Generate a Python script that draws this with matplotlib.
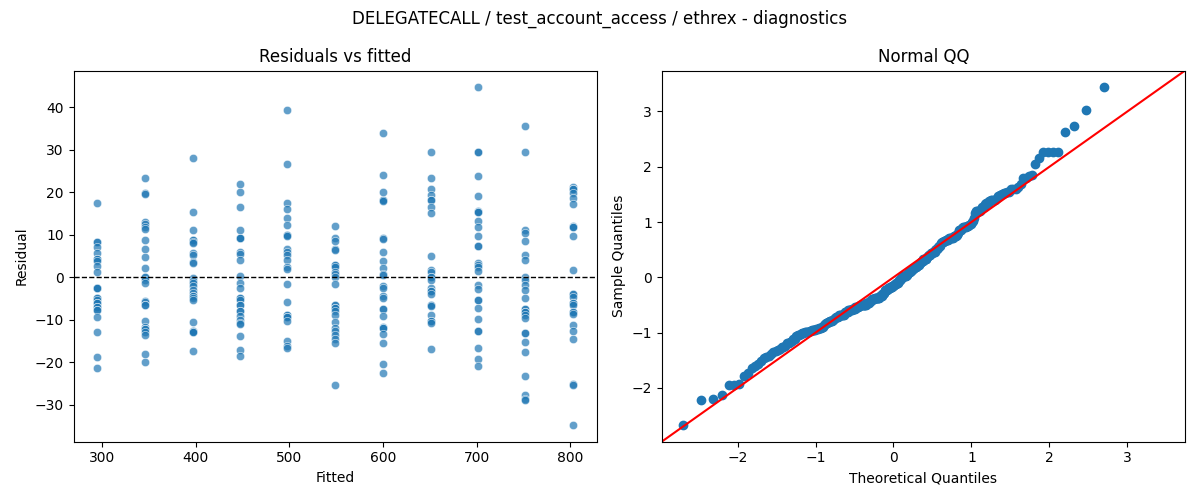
import numpy as np
import matplotlib
matplotlib.use("Agg")
import matplotlib.pyplot as plt
import seaborn as sns
from statistics import NormalDist


# -------------------------------------------------
# Residuals, one list per fitted value
# (repeated values are points drawn on top of each other)
# -------------------------------------------------

FITTED = [295, 346, 397, 447, 498, 549, 600, 651, 701, 752, 803]

RESID_295 = [17.4, 8.4, 8.4, 7.2, 5.8, 4.3, 4.3, 3.9, 2.7, 1.3, -2.4, -2.4,
             -2.6, -4.8, -4.8, -5.2, -6.1, -6.1, -6.9, -6.9, -7.7, -7.7,
             -9.3, -12.9, -18.8, -21.4]
RESID_346 = [23.3, 19.8, 19.6, 13.1, 12.5, 11.9, 11.5, 8.8, 6.6, 4.7, 2.1,
             0.2, 0.2, -0.6, -1.4, -5.5, -5.7, -6.5, -6.5, -10.2, -11.6,
             -12.2, -12.2, -12.8, -13.6, -18.1, -19.8]
RESID_397 = [28.0, 15.5, 11.1, 8.8, 8.8, 8.4, 8.0, 5.8, 5.3, 3.7, 3.3, -0.2,
             -0.8, -1.4, -2.0, -3.0, -3.6, -4.4, -4.4, -4.9, -5.3, -10.6,
             -12.5, -12.5, -12.8, -12.8, -17.4]
RESID_447 = [21.9, 20.0, 16.5, 11.1, 9.3, 9.3, 9.2, 6.0, 5.6, 4.2, 0.3, -1.3,
             -2.6, -4.9, -4.9, -5.2, -6.5, -6.5, -7.8, -7.8, -9.1, -10.0,
             -10.7, -11.0, -13.8, -17.1, -18.5]
RESID_498 = [39.5, 26.6, 17.6, 16.0, 13.9, 12.3, 10.0, 10.0, 9.8, 6.8, 6.0,
             5.2, 4.2, 2.5, 1.9, -1.6, -5.9, -8.9, -8.9, -9.3, -9.3, -10.2,
             -14.9, -16.2, -16.5]
RESID_549 = [12.1, 9.2, 8.6, 6.7, 6.4, 2.9, 2.9, 2.5, 1.3, 0.8, 0.0, -1.6,
             -6.5, -6.5, -7.1, -7.1, -7.8, -8.9, -10.6, -12.0, -12.5, -13.6,
             -14.6, -15.4, -25.3]
RESID_600 = [34.1, 24.2, 20.0, 18.2, 18.2, 18.0, 9.3, 9.0, 5.9, 3.9, 2.1, 0.9,
             0.5, -2.0, -2.4, -4.4, -4.9, -7.5, -7.5, -9.0, -11.6, -12.0,
             -12.0, -13.4, -15.5, -20.4, -22.6]
RESID_651 = [29.4, 23.3, 20.8, 19.4, 18.2, 18.2, 16.5, 15.1, 5.0, 1.7, 1.2,
             0.2, 0.2, -0.5, -2.6, -3.1, -3.1, -3.8, -6.5, -6.5, -6.7, -8.9,
             -10.2, -10.2, -10.8, -16.9]
RESID_701 = [44.7, 29.4, 29.4, 23.9, 19.1, 15.7, 15.5, 15.5, 13.3, 11.8, 9.7,
             7.4, 7.4, 3.5, 2.9, 2.4, 1.5, -1.8, -2.8, -5.2, -5.2, -7.1, -9.9,
             -12.6, -12.6, -16.5, -19.1, -20.9]
RESID_752 = [35.6, 29.4, 11.1, 10.5, 8.6, 5.3, 4.2, 0.2, -0.6, -1.8, -3.0,
             -4.9, -7.5, -7.5, -8.1, -8.1, -8.9, -9.6, -13.2, -13.2, -15.3,
             -17.6, -23.2, -27.7, -28.7, -28.9]
RESID_803 = [21.3, 20.7, 20.7, 19.9, 18.6, 17.2, 12.1, 11.8, 11.8, 9.7, 1.7,
             -3.9, -3.9, -4.5, -6.1, -6.1, -6.5, -8.1, -8.1, -8.6, -11.2,
             -12.5, -14.6, -25.1, -25.3, -34.7]

RESIDUALS = [RESID_295, RESID_346, RESID_397, RESID_447, RESID_498, RESID_549,
             RESID_600, RESID_651, RESID_701, RESID_752, RESID_803]

fitted = np.concatenate([[f] * len(r) for f, r in zip(FITTED, RESIDUALS)])
resid = np.concatenate(RESIDUALS)


fig, (ax1, ax2) = plt.subplots(1, 2, figsize=(12, 5))

# -------------------------------------------------
# Residuals vs fitted
# -------------------------------------------------

sns.scatterplot(x=fitted, y=resid, alpha=0.7, ax=ax1)

ax1.axhline(0, color="black", linestyle="--", linewidth=1)

ax1.set_xlabel("Fitted")

ax1.set_ylabel("Residual")

ax1.set_title("Residuals vs fitted")


# -------------------------------------------------
# Normal QQ (standardised residuals, 45 degree line)
# -------------------------------------------------

sample = np.sort((resid - resid.mean()) / resid.std())

n = len(sample)

theoretical = np.array(
    [NormalDist().inv_cdf(i / (n + 1)) for i in range(1, n + 1)]
)

ax2.plot(theoretical, sample, "o", color="C0")

xlim = ax2.get_xlim()
ylim = ax2.get_ylim()
lo = min(xlim[0], ylim[0])
hi = max(xlim[1], ylim[1])

ax2.plot([lo, hi], [lo, hi], color="red")

ax2.set_xlim(lo, hi)
ax2.set_ylim(lo, hi)

ax2.set_xlabel("Theoretical Quantiles")

ax2.set_ylabel("Sample Quantiles")

ax2.set_title("Normal QQ")


fig.suptitle("DELEGATECALL / test_account_access / ethrex - diagnostics")

fig.tight_layout()

fig.savefig("out.png", dpi=100)
